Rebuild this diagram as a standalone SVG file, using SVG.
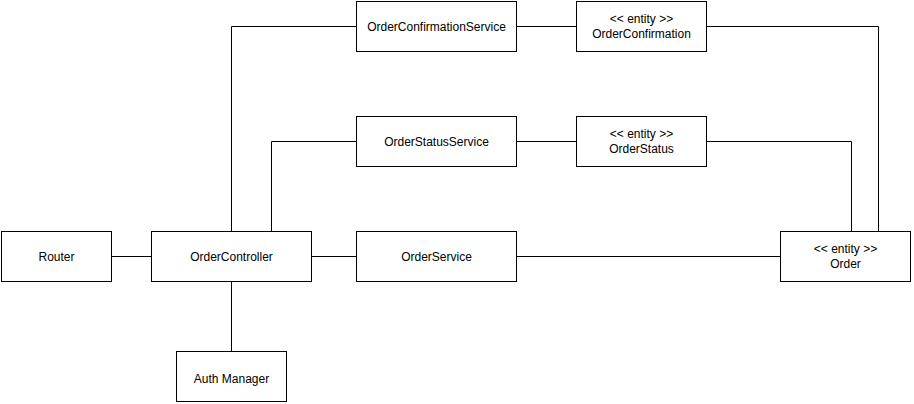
<svg xmlns="http://www.w3.org/2000/svg" width="914" height="404" viewBox="0 0 914 404">
<style>
.box{fill:#fff;stroke:#000;stroke-width:1}
.t{font-family:"Liberation Sans",Arial,sans-serif;font-size:12px;fill:#000;text-anchor:middle;dominant-baseline:central}
.c{fill:none;stroke:#000;stroke-width:1}
</style>
<rect width="914" height="404" fill="#fff"/>
<g id="connectors">
<path class="c" d="M111.5 256.5H151.5"/>
<path class="c" d="M311.5 256.5H356.5"/>
<path class="c" d="M516.5 256.5H780.5"/>
<path class="c" d="M231.5 231.5V26.5H356.5"/>
<path class="c" d="M271.5 231.5V141.5H356.5"/>
<path class="c" d="M516.5 26.5H576.5"/>
<path class="c" d="M516.5 141.5H576.5"/>
<path class="c" d="M706.5 26.5H878.5V231.5"/>
<path class="c" d="M706.5 141.5H851.5V231.5"/>
<path class="c" d="M231.5 281.5V351.5"/>
</g>
<g id="router"><rect class="box" x="1.5" y="231.5" width="110" height="50"/><text class="t" x="56.5" y="256.5">Router</text></g>
<g id="orderController"><rect class="box" x="151.5" y="231.5" width="160" height="50"/><text class="t" x="231.5" y="256.5">OrderController</text></g>
<g id="orderService"><rect class="box" x="356.5" y="231.5" width="160" height="50"/><text class="t" x="436.5" y="256.5">OrderService</text></g>
<g id="order"><rect class="box" x="780.5" y="231.5" width="130" height="50"/><text class="t" x="845.5" y="248.5">&lt;&lt; entity &gt;&gt;</text><text class="t" x="845.5" y="263.5">Order</text></g>
<g id="orderConfirmationService"><rect class="box" x="356.5" y="1.5" width="160" height="50"/><text class="t" x="436.5" y="26.5">OrderConfirmationService</text></g>
<g id="orderConfirmation"><rect class="box" x="576.5" y="1.5" width="130" height="50"/><text class="t" x="641.5" y="18.5">&lt;&lt; entity &gt;&gt;</text><text class="t" x="641.5" y="33.5">OrderConfirmation</text></g>
<g id="orderStatusService"><rect class="box" x="356.5" y="116.5" width="160" height="50"/><text class="t" x="436.5" y="141.5">OrderStatusService</text></g>
<g id="orderStatus"><rect class="box" x="576.5" y="116.5" width="130" height="50"/><text class="t" x="641.5" y="133.5">&lt;&lt; entity &gt;&gt;</text><text class="t" x="641.5" y="148.5">OrderStatus</text></g>
<g id="authManager"><rect class="box" x="176.5" y="351.5" width="110" height="50"/><text class="t" x="231.5" y="378.5">Auth Manager</text></g>
</svg>
